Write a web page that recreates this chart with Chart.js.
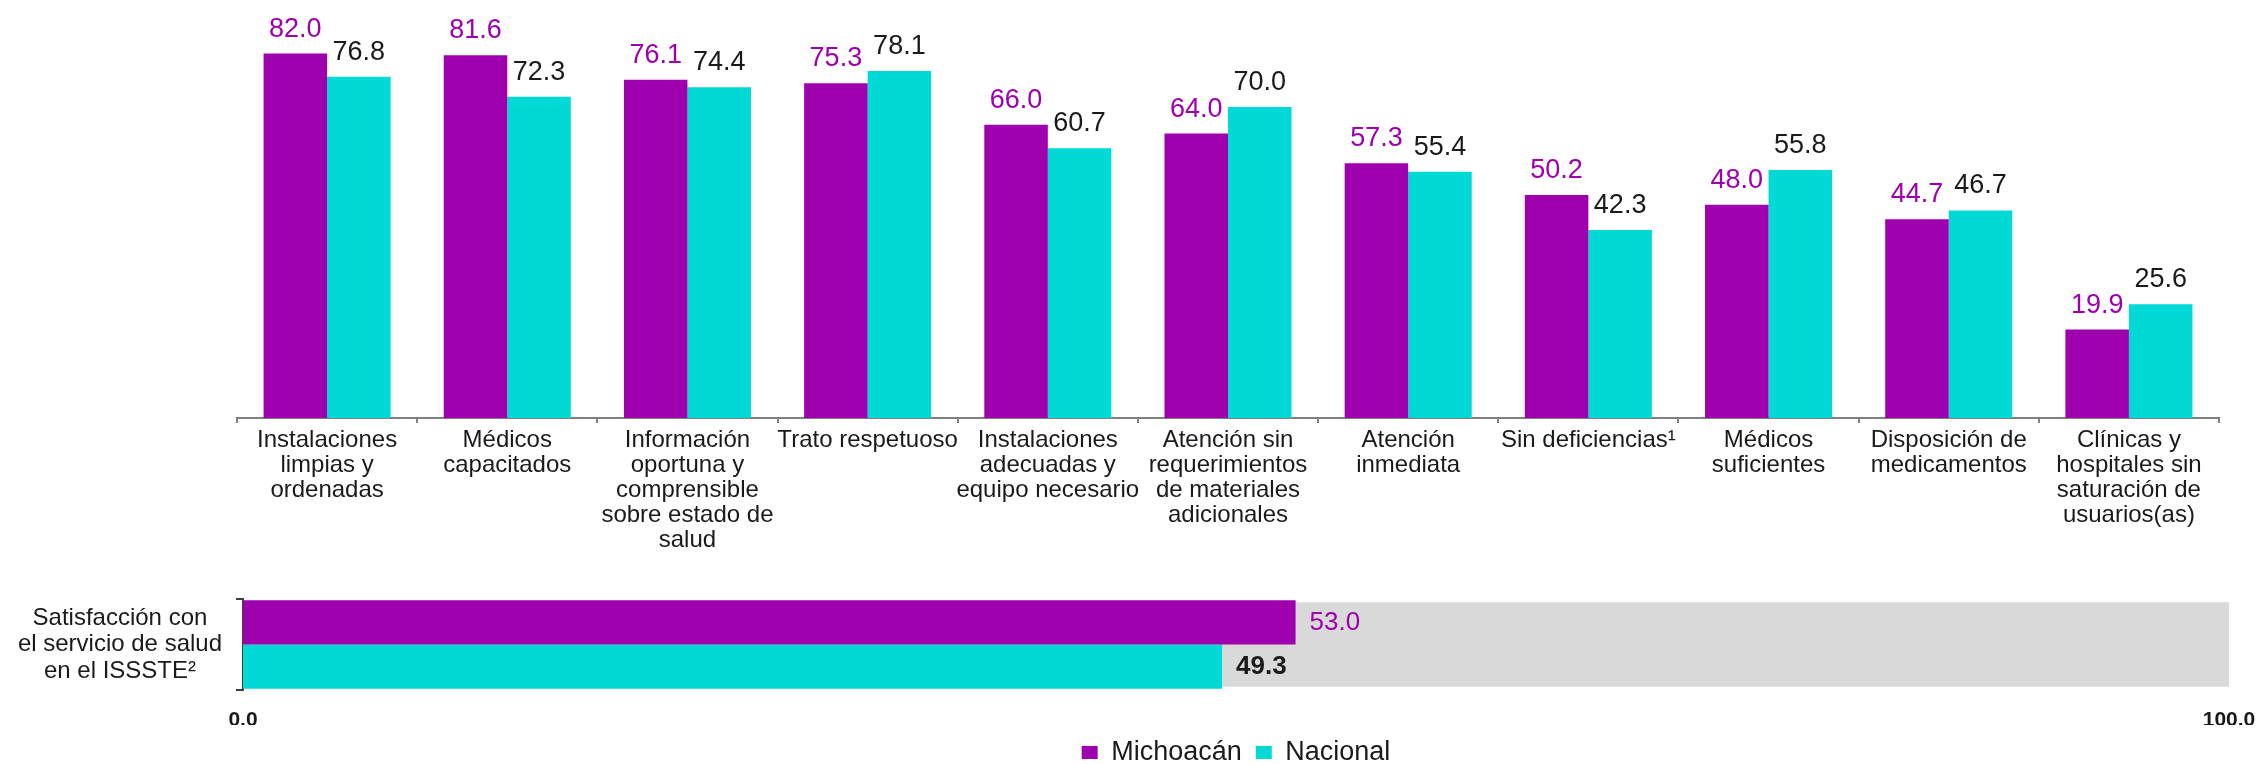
<!DOCTYPE html>
<html>
<head>
<meta charset="utf-8">
<script src="https://cdn.jsdelivr.net/npm/chart.js@4/dist/chart.umd.min.js"></script>
<style>
  body { margin: 0; background: #fff; overflow: hidden; }
  #top-chart { position: absolute; left: 0; top: 0; }
  #bottom-chart { position: absolute; left: 0; top: 580px; }
</style>
</head>
<body>
<canvas id="top-chart" width="2262" height="590"></canvas>
<canvas id="bottom-chart" width="2262" height="196"></canvas>
<script>
const categories = [
    ['Instalaciones', 'limpias y', 'ordenadas'],
    ['Médicos', 'capacitados'],
    ['Información', 'oportuna y', 'comprensible', 'sobre estado de', 'salud'],
    ['Trato respetuoso'],
    ['Instalaciones', 'adecuadas y', 'equipo necesario'],
    ['Atención sin', 'requerimientos', 'de materiales', 'adicionales'],
    ['Atención', 'inmediata'],
    ['Sin deficiencias¹'],
    ['Médicos', 'suficientes'],
    ['Disposición de', 'medicamentos'],
    ['Clínicas y', 'hospitales sin', 'saturación de', 'usuarios(as)']
];
const michoacan = [82.0, 81.6, 76.1, 75.3, 66.0, 64.0, 57.3, 50.2, 48.0, 44.7, 19.9];
const nacional = [76.8, 72.3, 74.4, 78.1, 60.7, 70.0, 55.4, 42.3, 55.8, 46.7, 25.6];

const satisfCategory = [['Satisfacción con', 'el servicio de salud', 'en el ISSSTE²']];
const satisfMichoacan = [53.0];
const satisfNacional = [49.3];
const satisfFondo = [100];

const purple = '#9e00ad';
const cyan = '#00d9d5';
const textDark = '#1a1a1a';

Chart.defaults.font.family = "'Liberation Sans', Arial, sans-serif";
Chart.defaults.color = textDark;

// value labels drawn next to each bar
const valueLabels = {
    id: 'valueLabels',
    afterDatasetsDraw(chart, args, opts) {
        const ctx = chart.ctx;
        chart.data.datasets.forEach((ds, i) => {
            if (!ds.labelColor) return;
            const meta = chart.getDatasetMeta(i);
            meta.data.forEach((bar, j) => {
                ctx.save();
                ctx.fillStyle = ds.labelColor;
                ctx.font = (ds.labelBold ? 'bold ' : '') + opts.size + "px 'Liberation Sans', Arial, sans-serif";
                if (opts.horizontal) {
                    ctx.textAlign = 'left';
                    ctx.textBaseline = 'middle';
                    ctx.fillText(ds.data[j].toFixed(1), bar.x + 14, bar.y);
                } else {
                    ctx.textAlign = 'center';
                    ctx.textBaseline = 'alphabetic';
                    ctx.fillText(ds.data[j].toFixed(1), bar.x, bar.y - 17);
                }
                ctx.restore();
            });
        });
    }
};

const topConfig = {
    type: 'bar',
    data: {
        labels: categories,
        datasets: [{
            label: 'Michoacán',
            data: michoacan,
            backgroundColor: purple,
            labelColor: purple,
            categoryPercentage: 0.705,
            barPercentage: 1
        }, {
            label: 'Nacional',
            data: nacional,
            backgroundColor: cyan,
            labelColor: textDark,
            categoryPercentage: 0.705,
            barPercentage: 1
        }]
    },
    options: {
        responsive: false,
        animation: false,
        layout: { padding: { left: 237, right: 43, top: 18, bottom: 0 } },
        scales: {
            x: {
                grid: { drawOnChartArea: false, tickLength: 5, color: '#808080', lineWidth: 2 },
                border: { display: true, color: '#808080', width: 2 },
                ticks: {
                    autoSkip: false,
                    maxRotation: 0,
                    padding: 5,
                    color: textDark,
                    font: { size: 24, lineHeight: 1.04 }
                },
                afterFit: s => { s.height = 172; }
            },
            y: {
                display: false,
                min: 0,
                max: 90
            }
        },
        plugins: {
            legend: { display: false },
            tooltip: { enabled: false },
            valueLabels: { size: 27 }
        }
    },
    plugins: [valueLabels]
};

const bottomConfig = {
    type: 'bar',
    data: {
        labels: satisfCategory,
        datasets: [{
            label: 'Michoacán',
            data: satisfMichoacan,
            backgroundColor: purple,
            labelColor: purple,
            categoryPercentage: 0.97,
            barPercentage: 1,
            order: 1
        }, {
            label: 'Nacional',
            data: satisfNacional,
            backgroundColor: cyan,
            labelColor: textDark,
            labelBold: true,
            categoryPercentage: 0.97,
            barPercentage: 1,
            order: 1
        }, {
            label: 'fondo',
            data: satisfFondo,
            backgroundColor: '#d9d9d9',
            grouped: false,
            categoryPercentage: 0.93,
            barPercentage: 1,
            order: 2
        }]
    },
    options: {
        indexAxis: 'y',
        responsive: false,
        animation: false,
        layout: { padding: { left: 0, right: 33, top: 19, bottom: 0 } },
        scales: {
            x: {
                min: 0,
                max: 100,
                grid: { display: false },
                border: { display: false },
                ticks: {
                    stepSize: 100,
                    padding: 10,
                    color: textDark,
                    font: { size: 21, weight: 'bold' },
                    callback: v => v.toFixed(1)
                },
                afterFit: s => {
                    s.height = 35;
                    s.paddingLeft = 0;
                    s.paddingRight = 0;
                }
            },
            y: {
                grid: { drawOnChartArea: false, tickLength: 7, color: '#404040', lineWidth: 2 },
                border: { display: true, color: '#404040', width: 2 },
                ticks: {
                    crossAlign: 'center',
                    padding: 14,
                    color: textDark,
                    font: { size: 24, lineHeight: 1.1 }
                },
                afterFit: s => {
                    s.width = 243;
                    s.paddingTop = 0;
                    s.paddingBottom = 0;
                }
            }
        },
        plugins: {
            legend: {
                position: 'bottom',
                fullSize: false,
                labels: {
                    boxWidth: 16,
                    boxHeight: 13,
                    padding: 14,
                    color: textDark,
                    font: { size: 27 },
                    filter: item => item.text !== 'fondo'
                }
            },
            tooltip: { enabled: false },
            valueLabels: { size: 26, horizontal: true }
        }
    },
    plugins: [valueLabels]
};

const topChart = new Chart(document.getElementById('top-chart'), topConfig);
const bottomChart = new Chart(document.getElementById('bottom-chart'), bottomConfig);
</script>
</body>
</html>
